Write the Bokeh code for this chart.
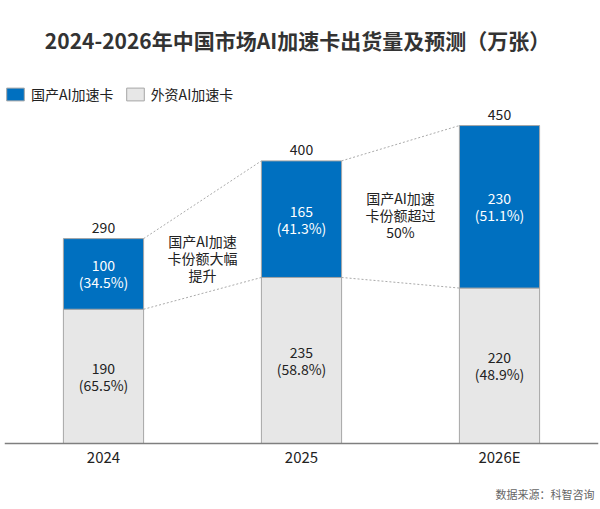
from bokeh.plotting import figure
from bokeh.models import (ColumnDataSource, FactorRange, Range1d, Label, Legend, LegendItem)
from bokeh.core.properties import value
from bokeh.embed import file_html
from bokeh.resources import INLINE

years = ["2024", "2025", "2026E"]
domestic = [100, 165, 230]
foreign = [190, 235, 220]
domestic_pct = ["34.5%", "41.3%", "51.1%"]
foreign_pct = ["65.5%", "58.8%", "48.9%"]
notes = ["国产AI加速\n卡份额大幅\n提升", "国产AI加速\n卡份额超过\n50%"]

FONT = "Noto Sans CJK SC"
BLUE = "#0070C0"
GREY = "#E7E7E7"
EDGE = "#A6A6A6"
BW = 0.405
LH = 0.85

totals = [d + f for d, f in zip(domestic, foreign)]
src = ColumnDataSource(dict(
    x=years, domestic=domestic, foreign=foreign, total=totals,
    dom_mid=[f + d / 2 for d, f in zip(domestic, foreign)],
    for_mid=[f / 2 for f in foreign],
    dom_txt=[f"{d}\n({p})" for d, p in zip(domestic, domestic_pct)],
    for_txt=[f"{f}\n({p})" for f, p in zip(foreign, foreign_pct)],
    tot_txt=[str(t) for t in totals],
))

p = figure(width=600, height=509, x_range=FactorRange(*years),
           y_range=Range1d(-93.4, 627), output_backend="svg", toolbar_location=None,
           min_border_left=4, min_border_right=2, min_border_top=0, min_border_bottom=0)
p.outline_line_color = None
p.grid.visible = False
p.yaxis.visible = False

rs = p.vbar_stack(["foreign", "domestic"], x="x", width=BW, source=src,
                  color=[GREY, BLUE], line_color=EDGE, line_width=1)

# connector lines
x0, x1, y0, y1 = [], [], [], []
for i in range(len(years) - 1):
    for a, b in ((totals[i], totals[i + 1]), (foreign[i], foreign[i + 1])):
        x0.append(i + 0.5 + BW / 2)
        x1.append(i + 1.5 - BW / 2)
        y0.append(a)
        y1.append(b)
p.segment(x0=x0, y0=y0, x1=x1, y1=y1, line_color="#AAAAAA", line_width=1, line_dash="2 2")

p.text(x="x", y="dom_mid", text="dom_txt", source=src, text_color="white",
       text_font=value(FONT), text_font_size="14px", text_align="center",
       text_baseline="middle", text_line_height=LH)
p.text(x="x", y="for_mid", text="for_txt", source=src, text_color="#222222",
       text_font=value(FONT), text_font_size="14px", text_align="center",
       text_baseline="middle", text_line_height=LH)
p.text(x="x", y="total", text="tot_txt", source=src, text_color="#222222",
       text_font=value(FONT), text_font_size="14px", text_align="center",
       text_baseline="bottom", y_offset=-6)

p.text(x=[1.0, 2.0], y=[263, 324], text=notes, text_color="#222222",
       text_font=value(FONT), text_font_size="14px", text_align="center",
       text_baseline="middle", text_line_height=LH)

ax = p.xaxis[0]
ax.fixed_location = 0
ax.axis_line_color = "#7F7F7F"
ax.axis_line_width = 1.5
ax.major_tick_line_color = None
ax.minor_tick_line_color = None
ax.major_tick_out = 0
ax.major_tick_in = 0
ax.major_label_standoff = 2
ax.major_label_text_font = FONT
ax.major_label_text_font_size = "15px"
ax.major_label_text_color = "#222222"

legend = Legend(items=[LegendItem(label="国产AI加速卡", renderers=[rs[1]]),
                       LegendItem(label="外资AI加速卡", renderers=[rs[0]])],
                location=(0, 405), orientation="horizontal",
                border_line_color=None, background_fill_alpha=0,
                glyph_width=22, glyph_height=16, label_height=16,
                label_standoff=5, spacing=10, padding=0, margin=0,
                label_text_font=FONT, label_text_font_size="14px",
                label_text_color="#222222")
p.add_layout(legend)

p.add_layout(Label(x=293, y=470, x_units="screen", y_units="screen",
                   text="2024-2026年中国市场AI加速卡出货量及预测（万张）",
                   text_font=FONT, text_font_size="21px", text_font_style="bold",
                   text_color="#333333", text_align="center", text_baseline="middle"))
p.add_layout(Label(x=590, y=16, x_units="screen", y_units="screen",
                   text="数据来源：科智咨询", text_font=FONT, text_font_size="11px",
                   text_color="#666666", text_align="right", text_baseline="middle"))

open("out.html", "w").write(file_html(p, INLINE))
